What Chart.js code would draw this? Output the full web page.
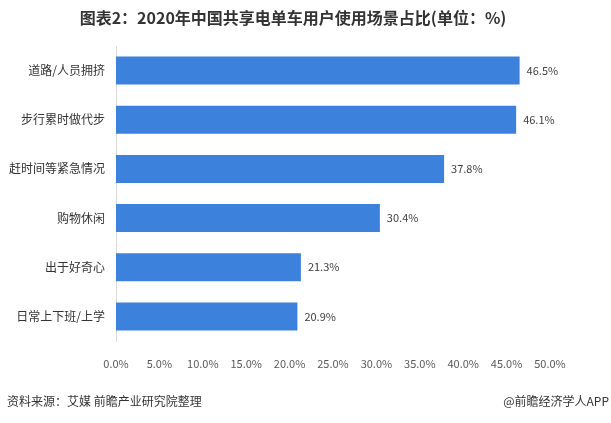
<!DOCTYPE html>
<html>
<head>
<meta charset="utf-8">
<script src="https://cdn.jsdelivr.net/npm/chart.js@4/dist/chart.umd.min.js"></script>
<style>
  html, body { margin: 0; padding: 0; background: #fff; }
  #wrap { width: 611px; height: 423px; position: relative; }
</style>
</head>
<body>
<div id="wrap"><canvas id="scenes" width="611" height="423"></canvas></div>
<script>
// Data
const categories = ['道路/人员拥挤', '步行累时做代步', '赶时间等紧急情况', '购物休闲', '出于好奇心', '日常上下班/上学'];
const shares = [46.5, 46.1, 37.8, 30.4, 21.3, 20.9];
const tickValues = [0, 5, 10, 15, 20, 25, 30, 35, 40, 45, 50];

const titleText = '图表2：2020年中国共享电单车用户使用场景占比(单位：%)';
const sourceText = '资料来源：艾媒 前瞻产业研究院整理';
const brandText = '@前瞻经济学人APP';

const FONT = '"Noto Sans CJK SC", "Microsoft YaHei", sans-serif';

// Title, footer and value labels
const textPlugin = {
  id: 'texts',
  afterDatasetsDraw(chart) {
    const ctx = chart.ctx;
    ctx.save();
    // value labels at bar ends
    const meta = chart.getDatasetMeta(0);
    ctx.font = '11px ' + FONT;
    ctx.fillStyle = '#404040';
    ctx.textAlign = 'left';
    ctx.textBaseline = 'middle';
    meta.data.forEach((bar, i) => {
      ctx.fillText(shares[i].toFixed(1) + '%', bar.x + 7, bar.y);
    });
    // title
    ctx.font = 'bold 16px ' + FONT;
    ctx.fillStyle = '#333333';
    ctx.textAlign = 'center';
    ctx.fillText(titleText, 293, 18);
    // footer
    ctx.font = '12px ' + FONT;
    ctx.fillStyle = '#333333';
    ctx.textAlign = 'left';
    ctx.fillText(sourceText, 7, 401);
    ctx.textAlign = 'right';
    ctx.fillText(brandText, 609, 401);
    ctx.restore();
  }
};

new Chart(document.getElementById('scenes'), {
  type: 'bar',
  data: {
    labels: categories,
    datasets: [{
      data: shares,
      backgroundColor: '#3c81dc',
      borderWidth: 0,
      categoryPercentage: 1,
      barPercentage: 0.57
    }]
  },
  options: {
    indexAxis: 'y',
    responsive: false,
    animation: false,
    layout: { padding: { left: 0, right: 61, top: 46, bottom: 52 } },
    plugins: {
      legend: { display: false },
      tooltip: { enabled: false }
    },
    scales: {
      x: {
        min: 0,
        max: 50,
        afterBuildTicks(scale) {
          scale.ticks = tickValues.map(v => ({ value: v }));
        },
        afterFit(scale) { scale.height = 30; },
        grid: { display: false },
        border: { display: false },
        ticks: {
          padding: 8,
          color: '#595959',
          font: { family: FONT, size: 11 },
          callback: v => v.toFixed(1) + '%'
        }
      },
      y: {
        afterFit(scale) { scale.width = 116; },
        grid: { display: false },
        border: { display: true, color: '#d9d9d9', width: 1 },
        ticks: {
          padding: 3,
          color: '#333333',
          font: { family: FONT, size: 12 }
        }
      }
    }
  },
  plugins: [textPlugin]
});
</script>
</body>
</html>
